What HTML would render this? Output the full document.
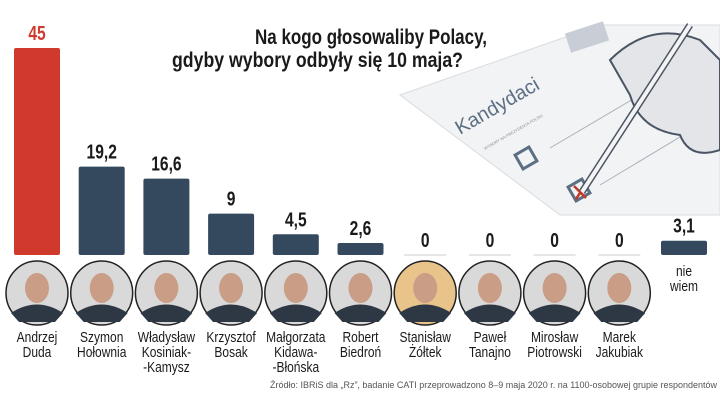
<!DOCTYPE html>
<html><head><meta charset="utf-8">
<style>
html,body{margin:0;padding:0;background:#fff;}
body{width:720px;height:405px;overflow:hidden;position:relative;font-family:"Liberation Sans",sans-serif;}
svg{position:absolute;left:0;top:0;}
</style></head><body>
<svg id="chart" width="720" height="405" viewBox="0 0 720 405" xmlns="http://www.w3.org/2000/svg">
  <g>
    <polygon points="400,95 600,25 720,25 720,215 560,215" fill="#f2f3f5" stroke="#d8dbe0"/>
    <rect x="567" y="27" width="40" height="20" fill="#c9ced6" transform="rotate(-18 587 37)"/>
    <text x="460" y="135" font-size="20" fill="#5d7083" transform="rotate(-30 460 135)">Kandydaci</text>
    <text x="485" y="150" font-size="4" fill="#8893a0" transform="rotate(-30 485 150)">WYBORY NA PREZYDENTA POLSKI</text>
    <rect x="518" y="150" width="16" height="16" fill="none" stroke="#5d7083" stroke-width="3" transform="rotate(-30 526 158)"/>
    <rect x="571" y="182" width="16" height="16" fill="none" stroke="#5d7083" stroke-width="3" transform="rotate(-30 579 190)"/>
    <path d="M574 186 L586 198 M586 184 L576 199" stroke="#c0392b" stroke-width="2.5"/>
    <line x1="550" y1="148" x2="640" y2="95" stroke="#aab2bc"/>
    <line x1="600" y1="185" x2="700" y2="125" stroke="#aab2bc"/>
    <path d="M610 60 Q650 20 700 40 L720 60 L720 150 Q690 160 680 135 Q640 130 630 95 Z" fill="#e3e5e8" stroke="#4a5563" stroke-width="2"/>
    <line x1="582" y1="192" x2="690" y2="25" stroke="#4a5563" stroke-width="7"/>
    <line x1="582" y1="192" x2="690" y2="25" stroke="#f4f4f4" stroke-width="4"/>
  </g>
  <text x="255" y="44" textLength="232" lengthAdjust="spacingAndGlyphs" font-size="21" font-weight="bold" fill="#1a1a1a">Na kogo głosowaliby Polacy,</text>
  <text x="172" y="67" textLength="291" lengthAdjust="spacingAndGlyphs" font-size="21" font-weight="bold" fill="#1a1a1a">gdyby wybory odbyły się 10 maja?</text>
  <g id="bars"></g>
  <g id="photos"></g>
  <g id="names"></g>
  <text x="270" y="388" textLength="447" lengthAdjust="spacingAndGlyphs" font-size="9" fill="#555">Źródło: IBRiS dla „Rz”, badanie CATI przeprowadzono 8–9 maja 2020 r. na 1100-osobowej grupie respondentów</text>
</svg>
<script>
const categories = ["Andrzej Duda","Szymon Hołownia","Władysław Kosiniak-Kamysz","Krzysztof Bosak","Małgorzata Kidawa-Błońska","Robert Biedroń","Stanisław Żółtek","Paweł Tanajno","Mirosław Piotrowski","Marek Jakubiak","nie wiem"];
const nameLines = [["Andrzej","Duda"],["Szymon","Hołownia"],["Władysław","Kosiniak-","-Kamysz"],["Krzysztof","Bosak"],["Małgorzata","Kidawa-","-Błońska"],["Robert","Biedroń"],["Stanisław","Żółtek"],["Paweł","Tanajno"],["Mirosław","Piotrowski"],["Marek","Jakubiak"],["nie","wiem"]];
const values = [45,19.2,16.6,9,4.5,2.6,0,0,0,0,3.1];
const valueLabels = ["45","19,2","16,6","9","4,5","2,6","0","0","0","0","3,1"];

const NS="http://www.w3.org/2000/svg";
const baseY=255, pxPerUnit=207/45, barW=46;
function xLeft(i){return 14+i*64.7;}
function yVal(v){return baseY-v*pxPerUnit;}
function mk(tag,attrs,parent){const e=document.createElementNS(NS,tag);for(const k in attrs)e.setAttribute(k,attrs[k]);parent.appendChild(e);return e;}
const gb=document.getElementById('bars'),gp=document.getElementById('photos'),gn=document.getElementById('names');
values.forEach((v,i)=>{
  const x=xLeft(i), cx=x+barW/2;
  if(v>0){
    const r=mk('rect',{x:x,y:yVal(v),width:barW,height:v*pxPerUnit,rx:2,fill:i===0?'#cf3a2c':'#35495e'},gb);
    
    
  } else {
    const l=mk('line',{x1:x+2,x2:x+barW-2,y1:baseY,y2:baseY,stroke:'#ccc','stroke-width':1},gb);
    
    
  }
  const t=mk('text',{x:0,y:0,transform:`translate(${cx},${yVal(v)-8}) scale(0.78,1)`,'text-anchor':'middle','font-size':20,'font-weight':'bold',fill:i===0?'#cf3a2c':'#1a1a1a'},gb);
  t.textContent=valueLabels[i];
  
  
  if(i<10){
    const c=mk('ellipse',{cx:cx,cy:293,rx:31,ry:32,fill:i===6?'#e8c48a':'#d9d9d9',stroke:'#222','stroke-width':1.5},gp);
    
    
    const f=mk('ellipse',{cx:cx,cy:288,rx:12,ry:15,fill:'#c99d86'},gp);
    
    
    const s=mk('path',{d:`M${cx-26} 313 Q${cx} 296 ${cx+26} 313 L${cx+18} 322 L${cx-18} 322 Z`,fill:'#2e3845'},gp);
    
    
  }
  const lines=nameLines[i];
  const y0=i===10?276:342;
  lines.forEach((ln,j)=>{
    const nt=mk('text',{x:0,y:0,transform:`translate(${cx},${y0+j*15}) scale(0.8,1)`,'text-anchor':'middle','font-size':15,fill:'#1a1a1a'},gn);
    nt.textContent=ln;
    
    
  });
});
</script>
</body></html>
